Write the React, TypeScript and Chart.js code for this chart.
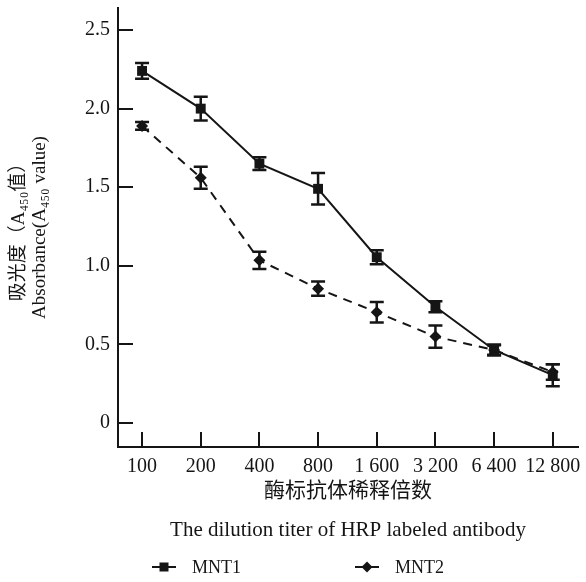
import React, { useEffect, useRef } from 'react';
import { Chart, registerables } from 'chart.js';

Chart.register(...registerables);

// ---- data ----
const categories = ['100', '200', '400', '800', '1 600', '3 200', '6 400', '12 800'];
const seriesNames = ['MNT1', 'MNT2'];
const mnt1Values = [2.24, 2.0, 1.65, 1.49, 1.055, 0.74, 0.465, 0.305];
const mnt1Errors = [0.05, 0.075, 0.04, 0.1, 0.045, 0.035, 0.035, 0.07];
const mnt2Values = [1.89, 1.56, 1.035, 0.855, 0.705, 0.55, 0.465, 0.325];
const mnt2Errors = [0.025, 0.07, 0.055, 0.045, 0.065, 0.07, 0.03, 0.05];
const yTickValues = [0, 0.5, 1.0, 1.5, 2.0, 2.5];
const xTitle = ['酶标抗体稀释倍数', 'The dilution titer of HRP labeled antibody'];
const yTitle = ['吸光度（A₄₅₀值）', 'Absorbance(A₄₅₀ value)'];

const FONT = "'Liberation Serif', 'DejaVu Serif', 'Noto Sans CJK SC', serif";
const INK = '#151515';

const errorBarPlugin = {
  id: 'errorBars',
  afterDatasetsDraw(chart: any) {
    const ctx = chart.ctx;
    const ys = chart.scales.y;
    chart.data.datasets.forEach((ds: any, di: number) => {
      const meta = chart.getDatasetMeta(di);
      meta.data.forEach((pt: any, i: number) => {
        const v = ds.data[i].y;
        const e = ds.errors[i];
        const top = ys.getPixelForValue(v + e);
        const bot = ys.getPixelForValue(v - e);
        ctx.save();
        ctx.strokeStyle = INK;
        ctx.lineWidth = 2.5;
        ctx.beginPath();
        ctx.moveTo(pt.x, top);
        ctx.lineTo(pt.x, bot);
        ctx.moveTo(pt.x - 7, top);
        ctx.lineTo(pt.x + 7, top);
        ctx.moveTo(pt.x - 7, bot);
        ctx.lineTo(pt.x + 7, bot);
        ctx.stroke();
        ctx.restore();
      });
    });
  },
};

const innerTicksPlugin = {
  id: 'innerTicks',
  beforeDatasetsDraw(chart: any) {
    const { ctx, chartArea } = chart;
    const xs = chart.scales.x;
    const ys = chart.scales.y;
    ctx.save();
    ctx.strokeStyle = INK;
    ctx.lineWidth = 2;
    ctx.beginPath();
    ys.ticks.forEach((t: any) => {
      const p = Math.round(ys.getPixelForValue(t.value));
      ctx.moveTo(chartArea.left, p);
      ctx.lineTo(chartArea.left + 15, p);
    });
    xs.ticks.forEach((t: any) => {
      const p = Math.round(xs.getPixelForValue(t.value));
      ctx.moveTo(p, chartArea.bottom);
      ctx.lineTo(p, chartArea.bottom - 15);
    });
    ctx.stroke();
    ctx.restore();
  },
};

const legendPlugin = {
  id: 'customLegend',
  afterDraw(chart: any) {
    const ctx = chart.ctx;
    const yc = 567;
    const starts = [152, 355];
    chart.data.datasets.forEach((ds: any, i: number) => {
      const x0 = starts[i];
      ctx.save();
      ctx.strokeStyle = INK;
      ctx.fillStyle = INK;
      ctx.lineWidth = 2;
      ctx.setLineDash(ds.borderDash || []);
      ctx.beginPath();
      ctx.moveTo(x0, yc);
      ctx.lineTo(x0 + 24, yc);
      ctx.stroke();
      ctx.setLineDash([]);
      const cx = x0 + 12;
      ctx.beginPath();
      if (ds.pointStyle === 'rect') {
        ctx.rect(cx - 4.5, yc - 4.5, 9, 9);
      } else {
        ctx.moveTo(cx, yc - 5.5);
        ctx.lineTo(cx + 5.5, yc);
        ctx.lineTo(cx, yc + 5.5);
        ctx.lineTo(cx - 5.5, yc);
        ctx.closePath();
      }
      ctx.fill();
      ctx.font = `18px ${FONT}`;
      ctx.textBaseline = 'middle';
      ctx.textAlign = 'left';
      ctx.fillText(ds.label, x0 + 40, yc + 1);
      ctx.restore();
    });
  },
};

export default function App() {
  const ref = useRef<HTMLCanvasElement>(null);

  useEffect(() => {
    const toPoints = (vals: number[]) => vals.map((v, i) => ({ x: i, y: v }));
    const chart = new Chart(ref.current as HTMLCanvasElement, {
      type: 'line',
      data: {
        datasets: [
          {
            label: seriesNames[0],
            data: toPoints(mnt1Values),
            errors: mnt1Errors,
            borderColor: INK,
            backgroundColor: INK,
            borderWidth: 2,
            pointStyle: 'rect',
            pointRadius: 7,
            pointBorderWidth: 0,
            tension: 0,
          } as any,
          {
            label: seriesNames[1],
            data: toPoints(mnt2Values),
            errors: mnt2Errors,
            borderColor: INK,
            backgroundColor: INK,
            borderWidth: 2,
            borderDash: [9, 7],
            pointStyle: 'rectRot',
            pointRadius: 6,
            pointBorderWidth: 0,
            tension: 0,
          } as any,
        ],
      },
      options: {
        responsive: false,
        animation: false,
        layout: { padding: { left: 0, top: 8, right: 8, bottom: 32 } },
        plugins: {
          legend: { display: false },
          tooltip: { enabled: false },
        },
        scales: {
          x: {
            type: 'linear',
            min: -0.41,
            max: 7.43,
            afterBuildTicks: (s: any) => {
              s.ticks = categories.map((_, i) => ({ value: i }));
            },
            afterFit: (s: any) => {
              s.height = 103;
              s.paddingLeft = 0;
              s.paddingRight = 0;
            },
            ticks: {
              autoSkip: false,
              maxRotation: 0,
              minRotation: 0,
              padding: 8,
              color: INK,
              font: { family: FONT, size: 20 },
              callback: (v: any) => categories[v] ?? '',
            },
            grid: { display: false, drawTicks: false },
            border: { display: true, color: INK, width: 2 },
            title: {
              display: true,
              text: xTitle,
              color: INK,
              font: { family: FONT, size: 21, lineHeight: 39 / 21 },
              padding: { top: 0, bottom: 0.5 },
            },
          },
          y: {
            type: 'linear',
            min: -0.152,
            max: 2.64,
            afterBuildTicks: (s: any) => {
              s.ticks = yTickValues.map((v) => ({ value: v }));
            },
            afterFit: (s: any) => {
              s.width = 118;
              s.paddingTop = 0;
              s.paddingBottom = 0;
            },
            ticks: {
              padding: 8,
              color: INK,
              font: { family: FONT, size: 20 },
              callback: (v: any) => (Number(v) === 0 ? '0' : Number(v).toFixed(1)),
            },
            grid: { display: false, drawTicks: false },
            border: { display: true, color: INK, width: 2 },
            title: {
              display: true,
              text: yTitle,
              color: INK,
              font: { family: FONT, size: 19, lineHeight: 21 / 19 },
              padding: { top: 9, bottom: 0 },
            },
          },
        },
      },
      plugins: [innerTicksPlugin, errorBarPlugin, legendPlugin],
    } as any);
    return () => chart.destroy();
  }, []);

  return (
    <div style={{ position: 'absolute', left: 0, top: 0, width: 586, height: 582, background: '#fff' }}>
      <canvas ref={ref} width={586} height={582} style={{ display: 'block', width: 586, height: 582 }} />
    </div>
  );
}
